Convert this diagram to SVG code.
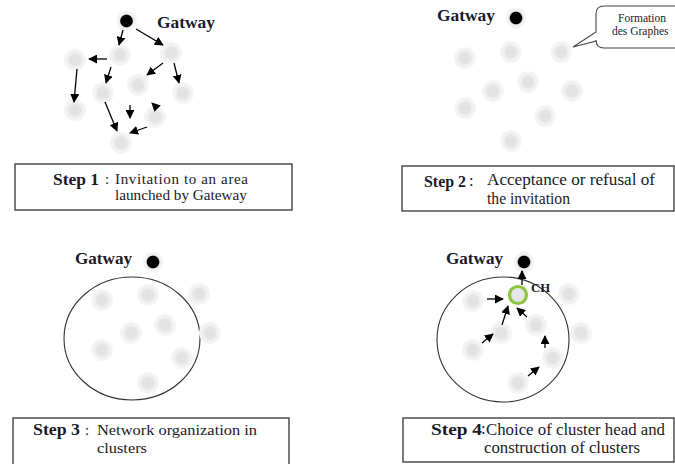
<svg xmlns="http://www.w3.org/2000/svg" width="675" height="464" viewBox="0 0 675 464">
<defs>
<radialGradient id="ng">
<stop offset="0" stop-color="#e2e2e2"/>
<stop offset="0.5" stop-color="#e4e4e4"/>
<stop offset="0.62" stop-color="#efefef"/>
<stop offset="1" stop-color="#f6f6f6"/>
</radialGradient>
<radialGradient id="gg">
<stop offset="0" stop-color="#000"/>
<stop offset="0.55" stop-color="#000"/>
<stop offset="0.65" stop-color="#eeeeee"/>
<stop offset="1" stop-color="#f7f7f7"/>
</radialGradient>
<marker id="ah" viewBox="0 0 10 10" refX="9" refY="5" markerWidth="9" markerHeight="9" markerUnits="userSpaceOnUse" orient="auto">
<path d="M0,0 L10,5 L0,10 z" fill="#000"/>
</marker>
<circle id="n" r="11" fill="url(#ng)"/>
<circle id="g" r="10.5" fill="url(#gg)"/>
</defs>
<style>
.gw{font-family:"Liberation Serif",serif;font-weight:bold;font-size:17px;fill:#1a1a2a}
.st{font-family:"Liberation Serif",serif;font-weight:bold;font-size:16px;fill:#1a1a2a}
.tx{font-family:"Liberation Serif",serif;font-size:15px;fill:#1a1a2a}
.tx2{font-family:"Liberation Serif",serif;font-size:16.5px;fill:#1a1a2a}
.box{fill:#fff;stroke:#333;stroke-width:1.3}
.con line{stroke:#000;stroke-width:1.3;marker-end:url(#ah)}
.cl{fill:none;stroke:#333;stroke-width:1.1}
</style>
<rect width="675" height="464" fill="#fff"/>

<!-- Panel 1 -->
<g id="p1-gateway"><use href="#g" x="126.5" y="21"/><text class="gw" x="157" y="28" textLength="58" lengthAdjust="spacingAndGlyphs">Gatway</text></g>
<g id="p1-nodes">
<use href="#n" x="120" y="55"/><use href="#n" x="171" y="53"/><use href="#n" x="75" y="60"/>
<use href="#n" x="138" y="85"/><use href="#n" x="183" y="93"/><use href="#n" x="103" y="93"/>
<use href="#n" x="75" y="110"/><use href="#n" x="155" y="117"/><use href="#n" x="121" y="143"/>
</g>
<g id="p1-connectors" class="con">
<line x1="123" y1="30" x2="119" y2="45"/>
<line x1="136" y1="29" x2="163" y2="45"/>
<line x1="107" y1="59" x2="89" y2="59"/>
<line x1="111" y1="67" x2="106" y2="83"/>
<line x1="163" y1="63" x2="147" y2="75"/>
<line x1="174" y1="63" x2="179" y2="83"/>
<line x1="77" y1="69" x2="74" y2="102"/>
<line x1="105" y1="102" x2="117" y2="131"/>
<line x1="130" y1="105" x2="130" y2="118"/>
<line x1="152" y1="103" x2="151.9" y2="102.9"/>
<line x1="147" y1="127" x2="130" y2="133"/>
</g>
<g id="p1-box"><rect class="box" x="15" y="164" width="277" height="46"/>
<text class="st" x="53" y="185" textLength="46" lengthAdjust="spacingAndGlyphs">Step 1</text><text class="tx" x="105" y="184">:</text>
<text class="tx" x="115" y="184" textLength="133">Invitation to an area</text>
<text class="tx" x="115" y="200" textLength="132" lengthAdjust="spacingAndGlyphs">launched by Gateway</text></g>

<!-- Panel 2 -->
<g id="p2-gateway"><use href="#g" x="516" y="18"/><text class="gw" x="437" y="21" textLength="58" lengthAdjust="spacingAndGlyphs">Gatway</text></g>
<g id="p2-callout">
<path d="M604,6 H690 V48 H604 Q596,48 596,40 V41 L573,47 L596,32 V14 Q596,6 604,6 Z" fill="#fff" stroke="#444" stroke-width="1.1"/>
<text x="618" y="22" font-family="'Liberation Serif',serif" font-size="11.5" fill="#1a1a2a">Formation</text>
<text x="612" y="35" font-family="'Liberation Serif',serif" font-size="11.5" fill="#1a1a2a">des Graphes</text>
</g>
<g id="p2-nodes">
<use href="#n" x="465" y="58"/><use href="#n" x="511" y="52"/><use href="#n" x="561" y="52"/>
<use href="#n" x="493" y="91"/><use href="#n" x="528" y="82"/><use href="#n" x="572" y="91"/>
<use href="#n" x="465" y="108"/><use href="#n" x="545" y="116"/><use href="#n" x="511" y="141"/>
</g>
<g id="p2-box"><rect class="box" x="402" y="166" width="272" height="45"/>
<text class="st" x="424" y="187" textLength="42" lengthAdjust="spacingAndGlyphs">Step 2</text><text class="tx2" x="469" y="186">:</text>
<text class="tx2" x="487" y="185" textLength="168" lengthAdjust="spacingAndGlyphs">Acceptance or refusal of</text>
<text class="tx2" x="487" y="204" textLength="83" lengthAdjust="spacingAndGlyphs">the invitation</text></g>

<!-- Panel 3 -->
<g id="p3-gateway"><use href="#g" x="153" y="262"/><text class="gw" x="75" y="264" textLength="57" lengthAdjust="spacingAndGlyphs">Gatway</text></g>
<g id="p3-cluster"><ellipse class="cl" cx="132" cy="338.5" rx="68" ry="61.5"/></g>
<g id="p3-nodes">
<use href="#n" x="102" y="300"/><use href="#n" x="148" y="295"/><use href="#n" x="199" y="294"/>
<use href="#n" x="165" y="325"/><use href="#n" x="131" y="333"/><use href="#n" x="210" y="333"/>
<use href="#n" x="102" y="350"/><use href="#n" x="182" y="358"/><use href="#n" x="148" y="383"/>
</g>
<g id="p3-box"><rect class="box" x="13" y="418" width="276" height="50"/>
<text class="st" x="33" y="435" textLength="47" lengthAdjust="spacingAndGlyphs">Step 3</text><text class="tx" x="85" y="435">:</text>
<text class="tx" x="97" y="435" textLength="160" lengthAdjust="spacingAndGlyphs">Network organization in</text>
<text class="tx" x="97" y="453" textLength="50" lengthAdjust="spacingAndGlyphs">clusters</text></g>

<!-- Panel 4 -->
<g id="p4-gateway"><use href="#g" x="524" y="262"/><text class="gw" x="446" y="264" textLength="57" lengthAdjust="spacingAndGlyphs">Gatway</text></g>
<g id="p4-cluster"><ellipse class="cl" cx="503" cy="339.5" rx="66" ry="62.5"/></g>
<g id="p4-nodes">
<use href="#n" x="473" y="301"/><use href="#n" x="569" y="294"/><use href="#n" x="536" y="325"/>
<use href="#n" x="501" y="333"/><use href="#n" x="581" y="333"/><use href="#n" x="473" y="350"/>
<use href="#n" x="553" y="358"/><use href="#n" x="518" y="383"/>
</g>
<g id="p4-ch"><circle cx="518" cy="295" r="8.5" fill="#e6e6e6" stroke="#8cc63f" stroke-width="3.2"/>
<text x="531" y="292" font-family="'Liberation Serif',serif" font-weight="bold" font-size="12" fill="#1a1a2a" textLength="19" lengthAdjust="spacingAndGlyphs">CH</text></g>
<g id="p4-connectors" class="con">
<line x1="522" y1="285" x2="522" y2="271"/>
<line x1="487" y1="299" x2="503" y2="299"/>
<line x1="502" y1="325" x2="508" y2="306"/>
<line x1="527" y1="317" x2="517" y2="308"/>
<line x1="482" y1="343" x2="493" y2="334"/>
<line x1="545" y1="348" x2="545" y2="336"/>
<line x1="528" y1="376" x2="539" y2="367"/>
</g>
<g id="p4-box"><rect class="box" x="403" y="418" width="271" height="44"/>
<text class="st" x="431" y="435" textLength="51" lengthAdjust="spacingAndGlyphs">Step 4</text><text class="tx2" x="481" y="434">:</text>
<text class="tx2" x="486" y="435" textLength="179" lengthAdjust="spacingAndGlyphs">Choice of cluster head and</text>
<text class="tx2" x="484" y="453" textLength="156" lengthAdjust="spacingAndGlyphs">construction of clusters</text></g>
</svg>
